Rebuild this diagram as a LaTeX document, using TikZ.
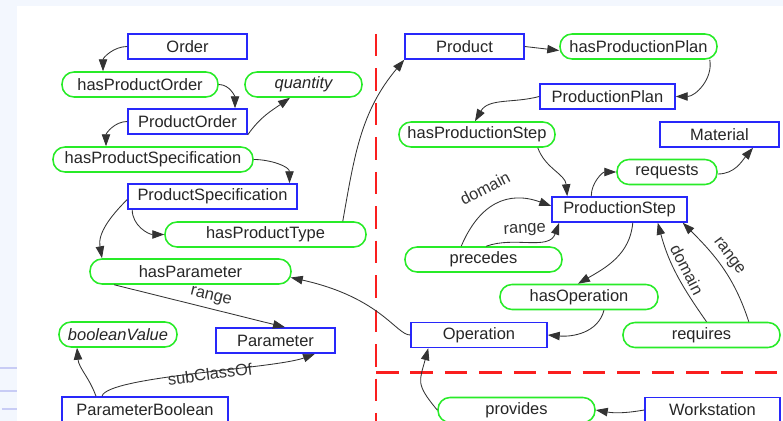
\documentclass[tikz,border=0pt]{standalone}
\usepackage{fontspec}
\setmainfont{Liberation Sans}
\usetikzlibrary{calc,arrows.meta}
\definecolor{clsblue}{RGB}{40,40,250}
\definecolor{propgreen}{RGB}{40,235,40}
\definecolor{sepred}{RGB}{250,30,30}
\definecolor{pagebg}{RGB}{243,247,254}
\definecolor{tabline}{RGB}{200,204,245}
\tikzset{
  boxw/.style={minimum width=#1*0.025cm},
  cls/.style={draw=clsblue, line width=1.1pt, minimum height=0.625cm, inner sep=0pt, text=black!85},
  prop/.style={draw=propgreen, line width=1.1pt, rounded corners=0.3cm, minimum height=0.625cm, inner sep=0pt, text=black!85},
  dprop/.style={prop, font=\fontsize{11.7}{14}\selectfont\itshape},
  rel/.style={->, line width=0.6pt, black!80},
  lbl/.style={text=black!80},
  sep/.style={draw=sepred, line width=2pt, dash pattern=on 16pt off 8.5pt},
}
\begin{document}
\begin{tikzpicture}[x=0.025cm, y=0.025cm, >={Triangle[length=8.5pt,width=6pt]}, font=\fontsize{11.7}{14}\selectfont]
\useasboundingbox (0,0) rectangle (783,421);
\fill[pagebg] (0,0) rectangle (783,421);
\fill[white] (17,0) rectangle (783,415);
\foreach \y/\x in {53/0,30/0,12/2}
  \draw[tabline, line width=1.5pt] (\x,\y) -- (17,\y);

\draw[sep] (376,387) -- (376,-5);
\draw[sep] (376,48.5) -- (790,48.5);

\node[cls, boxw=119] (order) at (187.5,374.5) {Order};
\node[prop, boxw=156] (hasProductOrder) at (140,336.5) {hasProductOrder};
\node[dprop, boxw=117] (quantity) at (303.5,336.5) {quantity};
\node[cls, boxw=119] (productOrder) at (187.5,299.5) {ProductOrder};
\node[prop, boxw=200] (hasProductSpec) at (153,261.5) {hasProductSpecification};
\node[cls, boxw=169] (productSpec) at (212.5,224.5) {ProductSpecification};
\node[prop, boxw=201] (hasProductType) at (265.5,186.5) {hasProductType};
\node[prop, boxw=201] (hasParameter) at (190.5,149.5) {hasParameter};
\node[dprop, boxw=118] (booleanValue) at (118,86.5) {booleanValue};
\node[cls, boxw=119] (parameter) at (275.5,80.5) {Parameter};
\node[cls, boxw=166] (parameterBoolean) at (145,11.5) {ParameterBoolean};

\node[cls, boxw=119] (product) at (464.5,374.5) {Product};
\node[prop, boxw=157] (hasProductionPlan) at (638.5,374.5) {hasProductionPlan};
\node[cls, boxw=135] (productionPlan) at (607.5,324.5) {ProductionPlan};
\node[prop, boxw=156] (hasProductionStep) at (477,286.5) {hasProductionStep};
\node[cls, boxw=119] (material) at (719.5,286.5) {Material};
\node[prop, boxw=100] (requests) at (667,249) {requests};
\node[cls, boxw=135] (productionStep) at (619.5,211.5) {ProductionStep};
\node[prop, boxw=157] (precedes) at (483.5,161.5) {precedes};
\node[prop, boxw=158] (hasOperation) at (579,124) {hasOperation};
\node[cls, boxw=136] (operation) at (479,86) {Operation};
\node[prop, boxw=157] (requires) at (701.5,86) {requires};
\node[prop, boxw=157] (provides) at (516.5,11) {provides};
\node[cls, boxw=135] (workstation) at (712.5,11) {Workstation};

\draw[rel] (order.west) to[out=180,in=90] ($(hasProductOrder.north)+(-37,0)$);
\draw[rel] (hasProductOrder.east) to[out=0,in=90] ($(productOrder.north)+(47.5,0)$);
\draw[rel] (productOrder.south east) to[out=55,in=215] ($(quantity.south)+(-13.5,0)$);
\draw[rel] (productOrder.west) to[out=180,in=90] ($(hasProductSpec.north)+(-47,0)$);
\draw[rel] (hasProductSpec.east) to[out=0,in=90] ($(productSpec.north)+(77,0)$);
\draw[rel] ($(productSpec.west)+(0,-3)$) to[out=225,in=100] ($(hasParameter.north)+(-88.5,0)$);
\draw[rel] ($(productSpec.south west)+(5,0)$) to[out=270,in=180] (hasProductType.west);
\draw[rel] ($(hasProductType.north east)+(-24,0)$) to[out=80,in=230] (product.south west);
\draw[rel] (operation.west) .. controls ($(operation.west)+(-14,0)$) and ($(hasParameter.east)+(89,-26)$) .. ($(hasParameter.east)+(-1,-6)$);
\draw[rel] ($(hasParameter.south west)+(25,0)$) -- node[lbl, above, sloped, pos=.55] {range} ($(parameter.north)+(9.5,0)$);
\draw[rel] ($(parameterBoolean.north)+(-49,0)$) to[out=110,in=-85] ($(booleanValue.south)+(-41,0)$);
\draw[rel] ($(parameterBoolean.north)+(-43,0)$) .. controls ($(parameterBoolean.north)+(-38,20)$) and ($(parameter.south)+(-0.5,-15)$) .. node[lbl, sloped, pos=.55, yshift=-2pt] {subClassOf} ($(parameter.south)+(39.5,0)$);

\draw[rel] (product.east) -- ($(hasProductionPlan.west)+(0,-4)$);
\draw[rel] ($(hasProductionPlan.south east)+(-8,0)$) to[out=-80,in=0] (productionPlan.east);
\draw[rel] (productionPlan.west) to[out=195,in=60] ($(hasProductionStep.north)+(-2,0)$);
\draw[rel] ($(hasProductionStep.south east)+(-18,0)$) to[out=-70,in=95] ($(productionStep.north west)+(16,0)$);
\draw[rel] ($(productionStep.north west)+(40,0)$) to[out=90,in=180] (requests.west);
\draw[rel] ($(requests.east)+(0,-2)$) to[out=0,in=230] ($(material.south)+(33.5,0)$);
\draw[rel] ($(precedes.north west)+(57,0)$) to[out=67,in=160,looseness=1.2] node[lbl, above=6pt, sloped, pos=.47] {domain} ($(productionStep.west)+(0,3.5)$);
\draw[rel] ($(precedes.north west)+(82,0)$) to[out=20,in=250] node[lbl, above, sloped, pos=.45] {range} ($(productionStep.south west)+(8,0)$);
\draw[rel] ($(productionStep.south east)+(-55,0)$) to[out=-95,in=30] ($(hasOperation.north)+(-1,0)$);
\draw[rel] ($(hasOperation.south)+(25,0)$) to[out=-105,in=-5] (operation.east);
\draw[rel] ($(requires.north)+(5,0)$) to[out=125,in=-75] node[lbl, above, sloped, pos=.5] {domain} ($(productionStep.south east)+(-30,0)$);
\draw[rel] ($(requires.north east)+(-32,0)$) to[out=108,in=-45] node[lbl, above, sloped, pos=.55] {range} ($(productionStep.south east)+(-5,0)$);
\draw[rel] (workstation.west) to[out=190,in=-10] (provides.east);
\draw[rel] (provides.west) to[out=130,in=-105,looseness=1.4] ($(operation.south west)+(18,0)$);
\end{tikzpicture}
\end{document}
